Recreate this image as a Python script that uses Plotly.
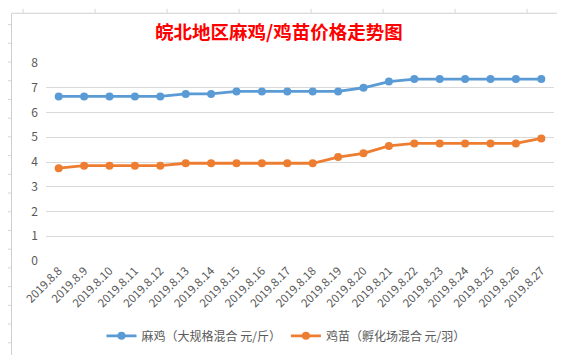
import plotly.graph_objects as go

dates = ["2019.8.8", "2019.8.9", "2019.8.10", "2019.8.11", "2019.8.12", "2019.8.13",
         "2019.8.14", "2019.8.15", "2019.8.16", "2019.8.17", "2019.8.18", "2019.8.19",
         "2019.8.20", "2019.8.21", "2019.8.22", "2019.8.23", "2019.8.24", "2019.8.25",
         "2019.8.26", "2019.8.27"]
maji = [6.65, 6.65, 6.65, 6.65, 6.65, 6.75, 6.75, 6.85, 6.85, 6.85, 6.85, 6.85,
        7.0, 7.25, 7.35, 7.35, 7.35, 7.35, 7.35, 7.35]
jimiao = [3.75, 3.85, 3.85, 3.85, 3.85, 3.95, 3.95, 3.95, 3.95, 3.95, 3.95, 4.2,
          4.35, 4.65, 4.75, 4.75, 4.75, 4.75, 4.75, 4.95]
name_maji = "麻鸡（大规格混合 元/斤）"
name_jimiao = "鸡苗（孵化场混合 元/羽）"
title_text = "皖北地区麻鸡/鸡苗价格走势图"
y_ticks = [0, 1, 2, 3, 4, 5, 6, 7, 8]

W, H = 565, 355
L, R, T, B = 38, 19, 55, 99
PW, PH = W - L - R, H - T - B

def px(x):
    return (x - L) / PW

def py(y):
    return (H - B - y) / PH

FONT = "Noto Sans CJK SC"
GRID = "#d9d9d9"

fig = go.Figure()
fig.add_trace(go.Scatter(x=dates, y=maji, name=name_maji, mode="lines+markers",
                         line=dict(color="#5B9BD5", width=2.8),
                         marker=dict(color="#5B9BD5", size=8)))
fig.add_trace(go.Scatter(x=dates, y=jimiao, name=name_jimiao, mode="lines+markers",
                         line=dict(color="#ED7D31", width=2.8),
                         marker=dict(color="#ED7D31", size=8)))

shapes = []
# spreadsheet cell lines visible around the chart
sheet_cols = [15 + 72 * k for k in range(8)]
sheet_rows = [16 + 19 * k for k in range(18)]
for cx in sheet_cols:
    shapes.append(dict(type="line", xref="paper", yref="paper", x0=px(cx), x1=px(cx),
                       y0=py(0), y1=py(4), line=dict(color="#d4d4d4", width=1)))
    shapes.append(dict(type="line", xref="paper", yref="paper", x0=px(cx), x1=px(cx),
                       y0=py(352), y1=py(355), line=dict(color="#d4d4d4", width=1)))
for ry in sheet_rows:
    shapes.append(dict(type="line", xref="paper", yref="paper", x0=px(0), x1=px(3),
                       y0=py(ry), y1=py(ry), line=dict(color="#d4d4d4", width=1)))
    shapes.append(dict(type="line", xref="paper", yref="paper", x0=px(561), x1=px(565),
                       y0=py(ry), y1=py(ry), line=dict(color="#d4d4d4", width=1)))
# chart border
shapes.append(dict(type="rect", xref="paper", yref="paper", x0=px(3.5), x1=px(561.5),
                   y0=py(352.5), y1=py(4.5), line=dict(color="#d0d0d0", width=1)))

fig.update_layout(
    width=W, height=H,
    margin=dict(l=L, r=R, t=T, b=B),
    paper_bgcolor="white", plot_bgcolor="white",
    font=dict(family=FONT, color="#595959", size=11),
    title=dict(text="<b>" + title_text + "</b>", x=px(281.5), xanchor="center",
               y=1 - 25 / H, yanchor="middle",
               font=dict(family=FONT, size=18.5, color="#FF0000")),
    showlegend=True,
    legend=dict(orientation="h", x=px(278), xanchor="center", y=py(332), yanchor="middle",
                font=dict(family=FONT, size=12, color="#595959"),
                itemwidth=30, tracegroupgap=0, bgcolor="rgba(0,0,0,0)"),
    xaxis=dict(type="category", range=[-0.5, len(dates) - 0.5], tickangle=-45,
               showgrid=False, showline=False, zeroline=False, ticks="",
               tickfont=dict(family=FONT, size=11.5, color="#595959")),
    yaxis=dict(range=[0, 8], tickvals=y_ticks, showgrid=True, gridcolor=GRID, gridwidth=1,
               zeroline=False, showline=False, ticks="", ticklabelstandoff=7,
               tickfont=dict(family=FONT, size=12, color="#595959")),
    shapes=shapes,
)

fig.write_html("out.html")
